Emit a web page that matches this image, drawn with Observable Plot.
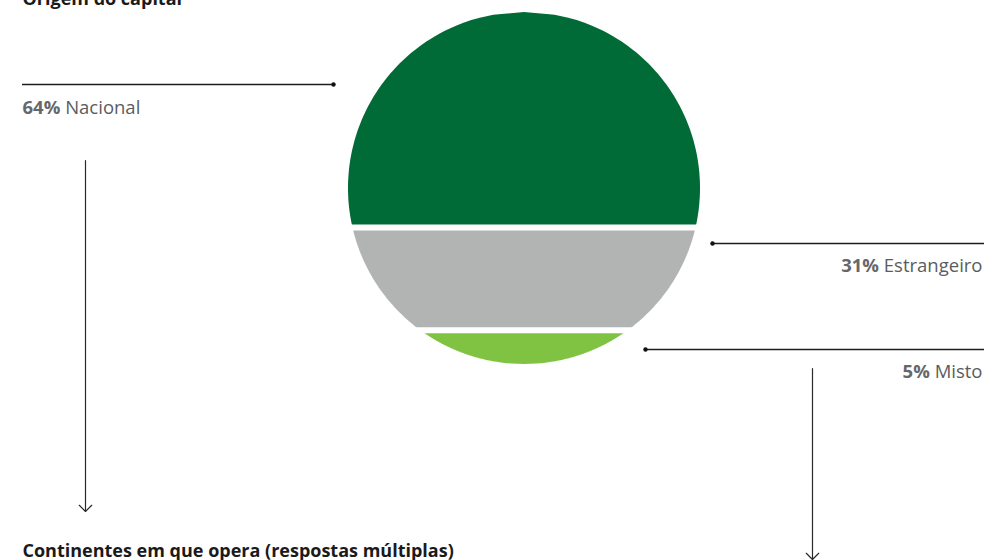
<!DOCTYPE html>
<html>
<head>
<meta charset="utf-8">
<script src="https://cdn.jsdelivr.net/npm/d3@7"></script>
<script src="https://cdn.jsdelivr.net/npm/@observablehq/plot@0.6"></script>
<style>
  html, body { margin: 0; padding: 0; background: #fff; }
  svg { display: block; }
</style>
</head>
<body>
<div id="chart"></div>
<script>
// ---- data ----
const categories = ["Nacional", "Estrangeiro", "Misto"];
const values = [64, 31, 5];
const titles = ["Origem do capital", "Continentes em que opera (respostas múltiplas)"];

// ---- styles / layout (pixel units) ----
const colors = ["#006b37", "#b1b4b3", "#80c342"];
const W = 984, H = 560;
const circle = {cx: 524, cy: 188, r: 176};
const leaders = [
  {x1: 22, x2: 333, y: 84, dotX: 333, labelX: 22, labelY: 113, anchor: "start"},
  {x1: 712, x2: 984, y: 243, dotX: 712, labelX: 982, labelY: 271, anchor: "end"},
  {x1: 645, x2: 984, y: 349, dotX: 645, labelX: 982, labelY: 377, anchor: "end"}
];
const arrows = [
  {x1: 85, y1: 160, x2: 85, y2: 511},
  {x1: 812, y1: 368, x2: 812, y2: 559}
];
const titlePos = [{x: 22, y: 4}, {x: 22, y: 556}];

// ---- geometry: horizontal bands whose areas are proportional to values ----
const total = d3.sum(values);
const areaAbove = t => 1 - (Math.acos(t) - t * Math.sqrt(1 - t * t)) / Math.PI;
function solve(f) {
  let lo = -1, hi = 1;
  for (let i = 0; i < 60; i++) {
    const mid = (lo + hi) / 2;
    if (areaAbove(mid) < f) lo = mid; else hi = mid;
  }
  return (lo + hi) / 2;
}
const cum = d3.cumsum(values).map(v => v / total);
const bounds = [-1, ...Array.from(cum.slice(0, -1), solve), 1];

const bandPts = [];
categories.forEach((c, i) => {
  const t0 = bounds[i], t1 = bounds[i + 1];
  const n = 80;
  for (let k = 0; k <= n; k++) {
    const t = t0 + (t1 - t0) * k / n;
    const hw = circle.r * Math.sqrt(Math.max(0, 1 - t * t));
    bandPts.push({cat: c, y: circle.cy + circle.r * t, x1: circle.cx - hw, x2: circle.cx + hw});
  }
});
const gaps = bounds.slice(1, -1).map(t => ({y: circle.cy + circle.r * t}));

const labels = categories.map((c, i) => ({...leaders[i], text: `${values[i]}% ${c}`}));

const plot = Plot.plot({
  width: W, height: H,
  margin: 0,
  x: {domain: [0, W], range: [0, W], axis: null},
  y: {domain: [0, H], range: [0, H], axis: null},
  color: {domain: categories, range: colors},
  style: {fontFamily: "'Open Sans', sans-serif", background: "#fff"},
  marks: [
    Plot.areaX(bandPts, {y: "y", x1: "x1", x2: "x2", fill: "cat", z: "cat", curve: "linear"}),
    Plot.ruleY(gaps, {y: "y", x1: circle.cx - circle.r - 4, x2: circle.cx + circle.r + 4, stroke: "#fff", strokeWidth: 6}),
    Plot.ruleY(leaders, {y: "y", x1: "x1", x2: "x2", stroke: "#1e1e1e", strokeWidth: 1.3}),
    Plot.dot(leaders, {x: "dotX", y: "y", r: 2.2, fill: "#111", stroke: null}),
    Plot.arrow(arrows, {x1: "x1", y1: "y1", x2: "x2", y2: "y2", stroke: "#2a2a2a", strokeWidth: 1.2, headAngle: 90, headLength: 11}),
    Plot.text(labels.filter(d => d.anchor === "start"), {x: "labelX", y: "labelY", text: "text", textAnchor: "start", lineAnchor: "bottom", fontSize: 18.5, fill: "#5b5c5e"}),
    Plot.text(labels.filter(d => d.anchor === "end"), {x: "labelX", y: "labelY", text: "text", textAnchor: "end", lineAnchor: "bottom", fontSize: 18.5, fill: "#5b5c5e"}),
    Plot.text(titles.map((t, i) => ({t, ...titlePos[i]})), {x: "x", y: "y", text: "t", textAnchor: "start", lineAnchor: "bottom", fontSize: 18, fontWeight: "bold", fill: "#1a1a1a"})
  ]
});

// bold percentage prefix in labels
plot.querySelectorAll("text").forEach(el => {
  const m = /^(\d+%)\s(.*)$/.exec(el.textContent);
  if (!m) return;
  el.textContent = "";
  const ns = "http://www.w3.org/2000/svg";
  const b = document.createElementNS(ns, "tspan");
  b.setAttribute("font-weight", "bold");
  b.setAttribute("fill", "#66676a");
  b.textContent = m[1] + " ";
  const r = document.createElementNS(ns, "tspan");
  r.textContent = m[2];
  el.appendChild(b);
  el.appendChild(r);
});

document.getElementById("chart").appendChild(plot);
</script>
</body>
</html>
